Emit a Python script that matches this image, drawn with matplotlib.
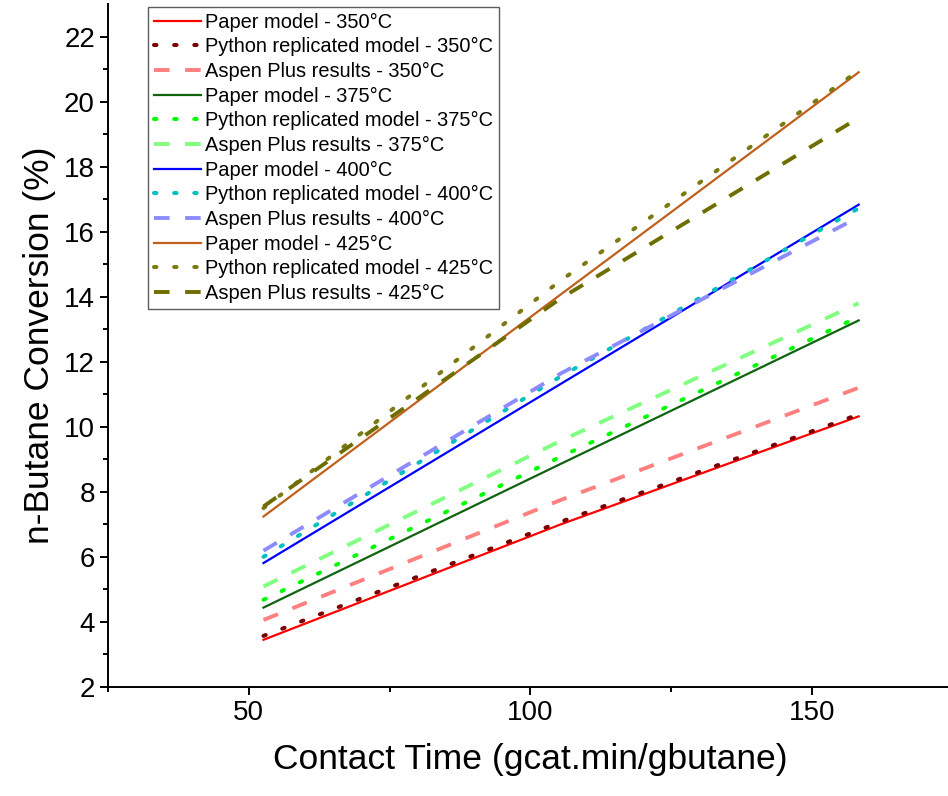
import numpy as np
import matplotlib
matplotlib.use("Agg")
import matplotlib.pyplot as plt

plt.rcParams['font.family'] = ['Liberation Sans', 'DejaVu Sans']

# contact time (gcat.min/gbutane)
contact_time = [52.6, 105.4, 158.3]

# n-butane conversion (%)
paper_350 = [3.45, 7.0, 10.32]
python_350 = [3.57, 7.08, 10.38]
aspen_350 = [4.06, 7.75, 11.2]
paper_375 = [4.44, 8.86, 13.27]
python_375 = [4.68, 9.08, 13.38]
aspen_375 = [5.09, 9.57, 13.8]
paper_400 = [5.81, 11.32, 16.83]
python_400 = [6.0, 11.55, 16.72]
aspen_400 = [6.19, 11.64, 16.45]
paper_425 = [7.24, 14.07, 20.9]
python_425 = [7.5, 14.5, 20.95]
aspen_425 = [7.55, 13.95, 19.5]

temps = ['350', '375', '400', '425']
series = {
    '350': (paper_350, python_350, aspen_350),
    '375': (paper_375, python_375, aspen_375),
    '400': (paper_400, python_400, aspen_400),
    '425': (paper_425, python_425, aspen_425),
}
colors = {
    '350': ('#ff0000', '#7a0000', '#ff8080'),
    '375': ('#106410', '#00ff00', '#80ff80'),
    '400': ('#0000ff', '#00c0c0', '#8c8cff'),
    '425': ('#c0601c', '#7a7a10', '#6e6e00'),
}

fig = plt.figure(figsize=(9.48, 7.96), dpi=100)
ax = fig.add_axes([0.114, 0.137, 0.891, 0.858])

for t in temps:
    paper, python, aspen = series[t]
    c_paper, c_py, c_asp = colors[t]
    ax.plot(contact_time, paper, color=c_paper, lw=1.6,
            label=f'Paper model - {t}°C')
    ax.plot(contact_time, python, color=c_py, lw=2.9, linestyle=(0, (0.6, 4.4)),
            dash_capstyle='round', label=f'Python replicated model - {t}°C')
    ax.plot(contact_time, aspen, color=c_asp, lw=2.8, linestyle=(0, (4, 4)),
            label=f'Aspen Plus results - {t}°C')

ax.set_xlim(25, 175)
ax.set_ylim(2, 23)
ax.set_xticks([50, 100, 150])
ax.set_xticks([25, 75, 125, 175], minor=True)
ax.set_yticks(np.arange(2, 23, 2))
ax.set_yticks(np.arange(3, 23, 2), minor=True)

for s in ['top', 'right']:
    ax.spines[s].set_visible(False)
for s in ['left', 'bottom']:
    ax.spines[s].set_linewidth(1.4)

ax.tick_params(which='major', direction='out', length=6, width=1.4, labelsize=20)
ax.tick_params(which='minor', direction='out', length=3.5, width=1.4)

ax.set_xlabel('Contact Time (gcat.min/gbutane)', fontsize=25.5, labelpad=12)
ax.set_ylabel('n-Butane Conversion (%)', fontsize=25.5, labelpad=6)

leg = ax.legend(loc='upper left', bbox_to_anchor=(0.047, 0.996), fontsize=14.4,
                frameon=True, fancybox=False, edgecolor='#333333',
                handlelength=2.35, handletextpad=0.2, labelspacing=0.28,
                borderpad=0.3, borderaxespad=0)
leg.get_frame().set_linewidth(1.0)

fig.savefig('out.png', dpi=100)
